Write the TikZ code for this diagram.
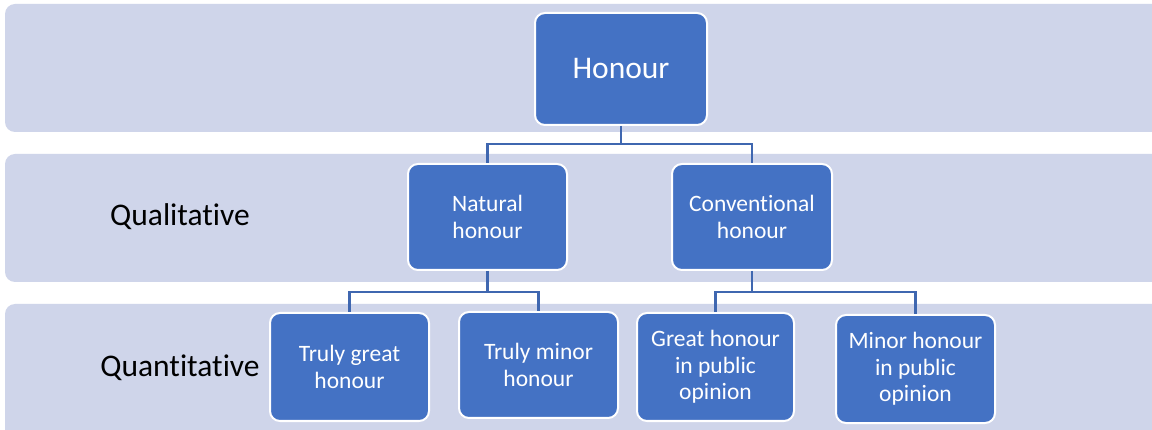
\documentclass[tikz,border=0pt]{standalone}
\usepackage{fontspec}
\setmainfont[Ligatures=NoCommon]{Carlito}
\definecolor{bandc}{HTML}{CFD5EA}
\definecolor{boxc}{HTML}{4472C4}
\definecolor{linec}{HTML}{3F67B0}
\begin{document}
\begin{tikzpicture}[x=1pt,y=-1pt,
  band/.style={fill=bandc,draw=none,rounded corners=10pt},
  hbox/.style={rectangle,fill=boxc,draw=white,line width=2pt,rounded corners=10pt,
    text=white,align=center,inner sep=0pt,font=\fontsize{23.5}{26.5}\selectfont},
  lbl/.style={font=\fontsize{31.5}{36}\selectfont,text=black,inner sep=0pt},
  conn/.style={draw=linec,line width=2.6pt}]
\useasboundingbox (0,0) rectangle (1152,430);
\clip (0,0) rectangle (1152,430);
\fill[white] (0,0) rectangle (1152,430);
\path[band] (5,4) rectangle (1175,132);
\path[band] (5,154) rectangle (1175,282);
\path[band] (5,304) rectangle (1175,450);
\node[lbl] (qual) at (180,217) {Qualitative};
\node[lbl] (quan) at (180,368) {Quantitative};
\coordinate (r1) at (0,144);
\coordinate (r2) at (0,292);
\node[hbox,minimum width=172pt,minimum height=112pt,font=\fontsize{31.5}{36}\selectfont] (honour) at (621,69) {Honour};
\node[hbox,minimum width=159pt,minimum height=106pt] (natural) at (487.5,217) {Natural\\honour};
\node[hbox,minimum width=160pt,minimum height=106pt] (conv) at (752,217) {Conventional\\honour};
\node[hbox,minimum width=159pt,minimum height=108pt] (tgreat) at (349.5,367) {Truly great\\honour};
\node[hbox,minimum width=159pt,minimum height=106pt] (tminor) at (538.5,365) {Truly minor\\honour};
\node[hbox,minimum width=157pt,minimum height=108pt] (great) at (715.5,367) {Great honour\\in public\\opinion};
\node[hbox,minimum width=159pt,minimum height=108pt] (minor) at (915.5,369) {Minor honour\\in public\\opinion};
\draw[conn] (honour.south) -- (honour.south |- r1) -| (natural.north);
\draw[conn] (honour.south |- r1) -| (conv.north);
\draw[conn] (natural.south) -- (natural.south |- r2) -| (tgreat.north);
\draw[conn] (natural.south |- r2) -| (tminor.north);
\draw[conn] (conv.south) -- (conv.south |- r2) -| (great.north);
\draw[conn] (conv.south |- r2) -| (minor.north);
\end{tikzpicture}
\end{document}
